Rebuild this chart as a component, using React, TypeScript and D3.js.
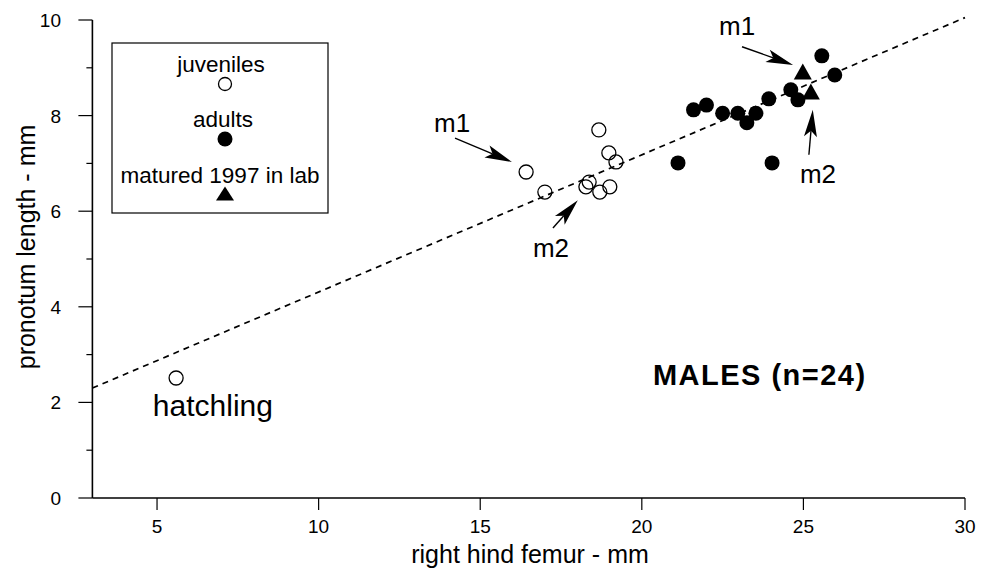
import React from 'react';
import * as d3 from 'd3';

// right hind femur (mm) / pronotum length (mm)
const juvenileFemur = [16.42, 17.0, 18.67, 18.98, 19.2, 18.37, 18.27, 18.7, 19.01, 5.59];
const juvenilePronotum = [6.82, 6.4, 7.7, 7.22, 7.03, 6.61, 6.51, 6.4, 6.51, 2.51];

const adultFemur = [25.57, 25.97, 21.6, 22.0, 22.5, 22.97, 23.25, 23.53, 23.93, 24.61, 24.83, 21.12, 24.03];
const adultPronotum = [9.25, 8.85, 8.12, 8.22, 8.05, 8.05, 7.85, 8.05, 8.35, 8.54, 8.33, 7.01, 7.01];

const labFemur = [24.98, 25.23];
const labPronotum = [8.89, 8.47];

// regression line end points
const fitFemur = [3, 30];
const fitPronotum = [2.3, 10.05];

const xTicks = [5, 10, 15, 20, 25, 30];
const yTicks = [0, 1, 2, 3, 4, 5, 6, 7, 8, 9, 10];

// annotation arrows: [tailX, tailY, tipX, tipY], label position
const arrowNames = ['m1', 'm2', 'm1', 'm2'];
const arrowPaths = [
  [14.22, 7.53, 15.98, 7.03],
  [17.25, 5.65, 18.02, 6.23],
  [23.1, 9.44, 24.68, 9.06],
  [25.17, 7.18, 25.29, 8.12],
];
const arrowLabelPos = [
  [14.13, 7.66],
  [17.19, 5.04],
  [22.95, 9.69],
  [25.45, 6.59],
];

const W = 987;
const H = 573;
const FONT = 'Liberation Sans, Arial, Helvetica, sans-serif';

function Arrow({ x1, y1, x2, y2 }: { x1: number; y1: number; x2: number; y2: number }) {
  const ang = Math.atan2(y2 - y1, x2 - x1);
  const len = 27;
  const hw = 6.5;
  const bx = x2 - Math.cos(ang) * len;
  const by = y2 - Math.sin(ang) * len;
  const nx = -Math.sin(ang) * hw;
  const ny = Math.cos(ang) * hw;
  const notchX = x2 - Math.cos(ang) * (len - 6);
  const notchY = y2 - Math.sin(ang) * (len - 6);
  return (
    <g>
      <line x1={x1} y1={y1} x2={notchX} y2={notchY} stroke="#000" strokeWidth={1.4} />
      <path
        d={`M${x2},${y2}L${bx + nx},${by + ny}L${notchX},${notchY}L${bx - nx},${by - ny}Z`}
        fill="#000"
      />
    </g>
  );
}

function triangle(cx: number, cy: number, w = 18, h = 16) {
  return `M${cx},${cy - h * 0.6}L${cx + w / 2},${cy + h * 0.4}L${cx - w / 2},${cy + h * 0.4}Z`;
}

export default function App() {
  const x = d3.scaleLinear().domain([3, 30]).range([92.4, 965]);
  const y = d3.scaleLinear().domain([0, 10]).range([498, 20]);

  const fitLine = d3.line<number>()
    .x((d) => x(d))
    .y((_, i) => y(fitPronotum[i]));

  return (
    <svg
      width={W}
      height={H}
      style={{ position: 'absolute', left: 0, top: 0, background: '#fff' }}
      fontFamily={FONT}
    >
      {/* axes */}
      <line x1={x(3)} y1={y(0)} x2={x(30)} y2={y(0)} stroke="#000" strokeWidth={1.6} />
      <line x1={x(3)} y1={y(0)} x2={x(3)} y2={y(10)} stroke="#000" strokeWidth={1.6} />
      {xTicks.map((t) => (
        <g key={'x' + t}>
          <line x1={x(t)} y1={y(0)} x2={x(t)} y2={y(0) + 12} stroke="#000" strokeWidth={1.2} />
          <text x={x(t)} y={533} textAnchor="middle" fontSize={19}>{t}</text>
        </g>
      ))}
      {yTicks.map((t) => (
        <g key={'y' + t}>
          <line
            x1={x(3) - (t % 2 === 0 ? 14 : 6)}
            y1={y(t)}
            x2={x(3)}
            y2={y(t)}
            stroke="#000"
            strokeWidth={1.2}
          />
          {t % 2 === 0 && (
            <text x={61} y={y(t) + 7} textAnchor="end" fontSize={19}>{t}</text>
          )}
        </g>
      ))}
      <text x={530} y={563} textAnchor="middle" fontSize={25}>
        right hind femur - mm
      </text>
      <text
        transform={`translate(35,247) rotate(-90)`}
        textAnchor="middle"
        fontSize={25}
      >
        pronotum length - mm
      </text>

      {/* regression line */}
      <path
        d={fitLine(fitFemur) || ''}
        fill="none"
        stroke="#000"
        strokeWidth={1.7}
        strokeDasharray="6,5"
      />

      {/* points */}
      {juvenileFemur.map((f, i) => (
        <circle key={'j' + i} cx={x(f)} cy={y(juvenilePronotum[i])} r={7} fill="none" stroke="#000" strokeWidth={1.3} />
      ))}
      {adultFemur.map((f, i) => (
        <circle key={'a' + i} cx={x(f)} cy={y(adultPronotum[i])} r={7.5} fill="#000" />
      ))}
      {labFemur.map((f, i) => (
        <path key={'l' + i} d={triangle(x(f), y(labPronotum[i]))} fill="#000" />
      ))}

      {/* annotations */}
      {arrowPaths.map((a, i) => (
        <g key={'ar' + i}>
          <Arrow x1={x(a[0])} y1={y(a[1])} x2={x(a[2])} y2={y(a[3])} />
          <text x={x(arrowLabelPos[i][0])} y={y(arrowLabelPos[i][1])} textAnchor="middle" fontSize={26}>
            {arrowNames[i]}
          </text>
        </g>
      ))}
      <text x={x(4.87)} y={y(1.72)} fontSize={30}>hatchling</text>
      <text x={x(23.65)} y={y(2.36)} textAnchor="middle" fontSize={29} fontWeight="bold" letterSpacing={1.5}>
        MALES (n=24)
      </text>

      {/* legend */}
      <rect x={112} y={43} width={216} height={170} fill="#fff" stroke="#000" strokeWidth={1.2} />
      <text x={221} y={72} textAnchor="middle" fontSize={22.5}>juveniles</text>
      <circle cx={225} cy={84} r={6.5} fill="none" stroke="#000" strokeWidth={1.3} />
      <text x={223} y={127} textAnchor="middle" fontSize={22.5}>adults</text>
      <circle cx={225} cy={139} r={7.5} fill="#000" />
      <text x={220} y={183} textAnchor="middle" fontSize={22.5}>matured 1997 in lab</text>
      <path d={triangle(225, 195, 18, 14)} fill="#000" />
    </svg>
  );
}
